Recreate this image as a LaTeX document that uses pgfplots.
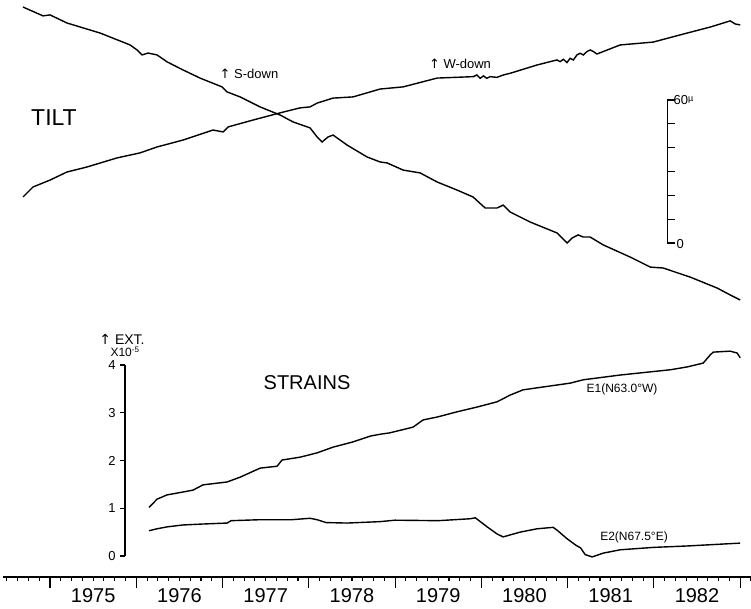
\documentclass[border=0pt]{standalone}
\usepackage{fontspec}
\setmainfont{Liberation Sans}
\newfontfamily\dejavu{DejaVu Sans}
\usepackage{pgfplots}
\pgfplotsset{compat=1.18}

% tilt, microradians (arbitrary zero)
\pgfplotstableread{
t µ
1974.687 99.0
1974.919 95.3
1975.000 95.7
1975.197 92.3
1975.580 88.1
1975.928 83.1
1976.009 81.0
1976.067 78.9
1976.136 79.7
1976.241 78.9
1976.357 76.0
1976.542 72.6
1976.739 69.2
1976.994 65.5
1977.052 63.4
1977.203 61.3
1977.435 57.1
1977.667 53.7
1977.817 50.8
1978.014 48.3
1978.096 44.5
1978.154 42.4
1978.223 44.5
1978.281 45.3
1978.443 41.1
1978.675 36.1
1978.826 34.0
1978.907 33.6
1979.093 30.6
1979.290 29.4
1979.487 25.6
1979.719 22.2
1979.904 19.3
1980.043 14.7
1980.183 14.7
1980.252 15.9
1980.333 13.0
1980.565 8.8
1980.878 4.2
1980.994 0.0
1981.052 2.1
1981.122 3.4
1981.180 2.5
1981.261 2.5
1981.412 -0.8
1981.725 -5.9
1981.957 -10.1
1982.107 -10.5
1982.420 -14.3
1982.733 -18.9
1982.884 -21.8
1983.000 -23.9
}\sdown

\pgfplotstableread{
t µ
1974.687 19.3
1974.803 23.5
1975.000 26.4
1975.197 29.8
1975.429 31.9
1975.777 35.7
1976.043 37.8
1976.241 40.3
1976.542 43.2
1976.890 47.4
1977.006 46.6
1977.064 48.7
1977.354 51.6
1977.667 54.6
1977.899 56.7
1978.014 57.1
1978.096 58.7
1978.281 60.8
1978.513 61.3
1978.826 64.6
1979.093 65.5
1979.487 69.2
1979.908 69.8
1979.947 70.5
1979.986 69.1
1980.024 70.1
1980.063 69.1
1980.101 69.8
1980.179 69.5
1980.256 70.5
1980.333 71.2
1980.646 74.7
1980.875 76.8
1980.913 76.1
1980.951 77.1
1980.991 75.7
1981.029 77.5
1981.067 76.8
1981.107 78.9
1981.145 79.6
1981.183 78.9
1981.223 80.3
1981.261 81.0
1981.299 80.3
1981.339 79.3
1981.609 83.1
1981.991 84.3
1982.386 88.1
1982.652 90.6
1982.884 93.2
1982.942 91.9
1983.000 91.5
}\wdown

% strains, x10^-5
\pgfplotstableread{
t e
1976.148 1.02
1976.241 1.19
1976.357 1.28
1976.542 1.34
1976.658 1.38
1976.774 1.49
1977.052 1.55
1977.203 1.65
1977.435 1.84
1977.632 1.88
1977.690 2.01
1977.899 2.07
1978.096 2.16
1978.281 2.28
1978.513 2.39
1978.710 2.51
1978.826 2.55
1978.942 2.58
1979.209 2.70
1979.325 2.85
1979.487 2.91
1979.719 3.02
1979.951 3.12
1980.183 3.23
1980.333 3.37
1980.484 3.48
1980.716 3.54
1981.029 3.62
1981.180 3.69
1981.609 3.79
1982.188 3.90
1982.386 3.96
1982.571 4.04
1982.652 4.21
1982.687 4.27
1982.884 4.29
1982.965 4.25
1983.000 4.15
}\eone

\pgfplotstableread{
t e
1976.148 0.53
1976.241 0.57
1976.357 0.61
1976.542 0.65
1976.774 0.67
1977.052 0.69
1977.100 0.74
1977.435 0.76
1977.800 0.76
1978.014 0.79
1978.096 0.76
1978.200 0.70
1978.443 0.69
1978.826 0.72
1979.000 0.75
1979.500 0.74
1979.870 0.78
1979.930 0.80
1980.067 0.61
1980.183 0.46
1980.252 0.40
1980.449 0.50
1980.646 0.57
1980.832 0.60
1980.878 0.54
1980.994 0.36
1981.100 0.22
1981.150 0.17
1981.203 0.03
1981.284 -0.02
1981.412 0.06
1981.609 0.13
1981.991 0.18
1982.386 0.21
1983.000 0.27
}\etwo

\begin{document}
\begin{tikzpicture}[x=1pt,y=1pt]
\pgfplotsset{every axis/.append style={scale only axis, clip=false}}

% ---- tilt ----
\begin{axis}[at={(3pt,298pt)}, anchor=south west,
    width=748.2pt, height=310pt,
    xmin=1974.4551, xmax=1983.1275, ymin=-28.11, ymax=101.96,
    hide axis]
  \addplot[black, line width=1.4pt] table[x=t, y=µ] {\sdown};
  \addplot[black, line width=1.4pt] table[x=t, y=µ] {\wdown};
  % scale bar, 0 to 60 microradians
  \draw[line width=1.1pt] (axis cs:1982.1536,60) -- (axis cs:1982.1536,0);
  \pgfplotsinvokeforeach{0,10,20,30,40,50,60}{
    \draw[line width=1.1pt] (axis cs:1982.1536,#1) -- ++(8pt,0pt);
  }
\end{axis}

% ---- strains ----
\begin{axis}[at={(125pt,52pt)}, anchor=south west,
    width=626.2pt, height=191pt,
    xmin=1975.8696, xmax=1983.1275, ymin=0, ymax=4,
    axis x line=none, axis y line=left,
    axis line style={-, line width=1.1pt},
    ytick={0,1,2,3,4},
    tick align=outside, major tick length=5pt,
    tick style={line width=1.1pt, black},
    yticklabel style={font=\fontsize{13}{13}\selectfont, xshift=-1pt},
    /pgf/number format/assume math mode=true]
  \addplot[black, line width=1.4pt] table[x=t, y=e] {\eone};
  \addplot[black, line width=1.4pt] table[x=t, y=e] {\etwo};
\end{axis}

% ---- time axis ----
\begin{axis}[at={(3pt,31pt)}, anchor=south west,
    width=748.2pt, height=20pt,
    xmin=1974.4551, xmax=1983.1275, ymin=0, ymax=1,
    axis x line=bottom, axis y line=none,
    axis line style={-, line width=1.1pt},
    xtick={1975,1976,...,1983}, xticklabels={},
    minor xtick={1974.5,1974.625,...,1983.125},
    tick align=outside, major tick length=11pt, minor tick length=4pt,
    tick style={line width=1.1pt, black},
    extra x ticks={1975.5,1976.5,...,1982.5},
    extra x tick labels={1975,1976,1977,1978,1979,1980,1981,1982},
    extra x tick style={major tick length=0pt,
      tick label style={font=\fontsize{20}{20}\selectfont, anchor=center, yshift=-19pt}}]
\end{axis}

% ---- texts ----
\node[font=\fontsize{23}{23}\selectfont] at (54,490) {TILT};
\node[font=\fontsize{13}{13}\selectfont] at (249,534) {{\dejavu ↑} S-down};
\node[font=\fontsize{13}{13}\selectfont] at (460,544) {{\dejavu ↑} W-down};
\node[font=\fontsize{13}{13}\selectfont, anchor=west] at (670,508) {60\raisebox{3pt}{\fontsize{9}{9}\selectfont µ}};
\node[font=\fontsize{13}{13}\selectfont, anchor=west] at (673,364) {0};
\node[font=\fontsize{20}{20}\selectfont] at (307,225) {STRAINS};
\node[font=\fontsize{12}{12}\selectfont] at (622,219) {E1(N63.0°W)};
\node[font=\fontsize{12}{12}\selectfont] at (634,71) {E2(N67.5°E)};
\node[font=\fontsize{14}{14}\selectfont] at (122,269) {{\dejavu ↑} EXT.};
\node[font=\fontsize{12}{12}\selectfont] at (125,256) {X10\textsuperscript{-5}};

\pgfresetboundingbox
\path (0,0) rectangle (751,608);
\end{tikzpicture}
\end{document}
